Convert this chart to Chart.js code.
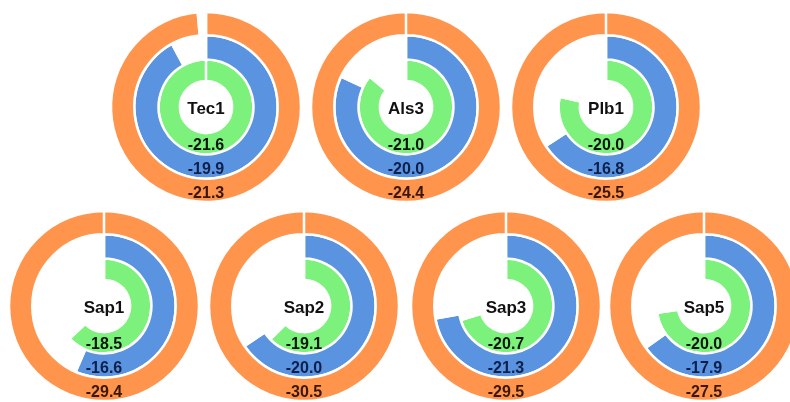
<!DOCTYPE html>
<html>
<head>
<meta charset="utf-8">
<script src="https://cdn.jsdelivr.net/npm/chart.js@4.4.1/dist/chart.umd.min.js"></script>
<style>
  html, body { margin: 0; padding: 0; background: #ffffff; width: 790px; height: 402px; overflow: hidden; }
  #wrap { position: relative; width: 790px; height: 402px; overflow: hidden; }
  canvas { position: absolute; }
</style>
</head>
<body>
<div id="wrap"></div>
<script>
// ---- data ----
const categories   = ['Tec1', 'Als3', 'Plb1', 'Sap1', 'Sap2', 'Sap3', 'Sap5'];
const orangeValues = [-21.3, -24.4, -25.5, -29.4, -30.5, -29.5, -27.5];
const blueValues   = [-19.9, -20.0, -16.8, -16.6, -20.0, -21.3, -17.9];
const greenValues  = [-21.6, -21.0, -20.0, -18.5, -19.1, -20.7, -20.0];

// ---- layout / style (not data) ----
const centers = [[206,107],[406,107],[606,107],[104,306],[304,306],[506,306],[704,306]];
const colors = { orange: '#FF944D', blue: '#5A93E0', green: '#7CF27C' };
const textColors = { orange: '#3a1606', blue: '#0e1f4a', green: '#0b160b' };
const labelShift = { orange: 3, blue: 3, green: 2 };
const SIZE = 200;

const labelPlugin = {
  id: 'ringLabels',
  afterDatasetsDraw(chart) {
    const ctx = chart.ctx;
    const name = chart.options.plugins.ringLabels.name;
    const keys = ['orange', 'blue', 'green'];
    ctx.save();
    ctx.textAlign = 'center';
    ctx.textBaseline = 'middle';
    let cx = 0, cy = 0;
    chart.data.datasets.forEach((ds, i) => {
      const arc = chart.getDatasetMeta(i).data[0];
      cx = arc.x; cy = arc.y;
      const r = (arc.innerRadius + arc.outerRadius) / 2;
      ctx.font = 'bold 16px "Liberation Sans", Arial, sans-serif';
      ctx.fillStyle = textColors[keys[i]];
      ctx.fillText(ds.rawValue.toFixed(1), cx, cy + r + labelShift[keys[i]]);
    });
    ctx.font = 'bold 17px "Liberation Sans", Arial, sans-serif';
    ctx.fillStyle = '#111111';
    ctx.fillText(name, cx, cy + 2);
    ctx.restore();
  }
};

const wrap = document.getElementById('wrap');
categories.forEach((cat, k) => {
  const vals = { orange: orangeValues[k], blue: blueValues[k], green: greenValues[k] };
  const maxAbs = Math.max(Math.abs(vals.orange), Math.abs(vals.blue), Math.abs(vals.green));
  const canvas = document.createElement('canvas');
  canvas.width = SIZE; canvas.height = SIZE;
  canvas.style.left = (centers[k][0] - SIZE / 2) + 'px';
  canvas.style.top = (centers[k][1] - SIZE / 2) + 'px';
  wrap.appendChild(canvas);
  const mk = (key, weight) => ({
    data: [Math.abs(vals[key]), maxAbs - Math.abs(vals[key])],
    rawValue: vals[key],
    backgroundColor: [colors[key], 'rgba(0,0,0,0)'],
    borderColor: '#ffffff',
    borderWidth: 2.5,
    weight: weight,
    hoverOffset: 0
  });
  new Chart(canvas, {
    type: 'doughnut',
    data: {
      labels: ['value', 'rest'],
      datasets: [mk('orange', 23), mk('blue', 24), mk('green', 21)]
    },
    options: {
      responsive: false,
      animation: false,
      radius: 95,
      cutout: '27.5%',
      layout: { padding: 0 },
      events: [],
      plugins: {
        legend: { display: false },
        tooltip: { enabled: false },
        ringLabels: { name: cat }
      }
    },
    plugins: [labelPlugin]
  });
});
</script>
</body>
</html>
